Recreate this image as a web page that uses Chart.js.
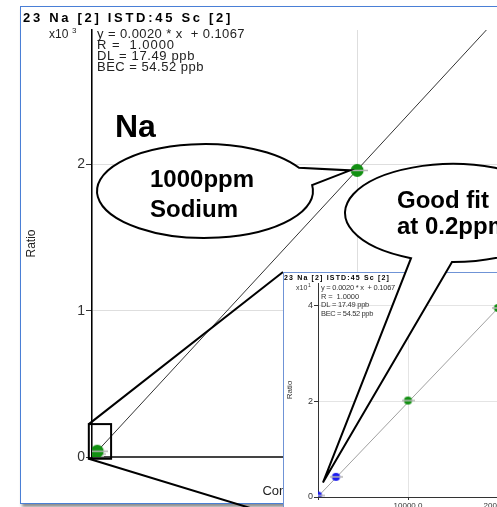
<!DOCTYPE html>
<html>
<head>
<meta charset="utf-8">
<title>23 Na calibration</title>
<script src="https://cdn.jsdelivr.net/npm/chart.js@4.4.1/dist/chart.umd.min.js"></script>
<style>
  html, body { margin: 0; padding: 0; background: #fff; }
  body { width: 497px; height: 507px; position: relative; overflow: hidden; }
  #mainFrame { position: absolute; left: 20px; top: 6px; width: 600px; height: 496px;
    border: 1px solid #4a7fd6; background: #fff; box-shadow: 2px 3px 3px rgba(0,0,0,0.45); }
  #mainChart { position: absolute; left: 0; top: 0; }
  #insetFrame { position: absolute; left: 283px; top: 272px; width: 300px; height: 244px;
    border: 1px solid #6f93d6; background: #fff; }
  #insetChart { position: absolute; left: 0; top: 0; }
  #overlay { position: absolute; left: 0; top: 0; pointer-events: none; }
</style>
</head>
<body>
<div id="mainFrame"></div>
<canvas id="mainChart" width="520" height="507"></canvas>
<div id="insetFrame"><canvas id="insetChart" width="260" height="244"></canvas></div>
<canvas id="overlay" width="497" height="507"></canvas>
<script>
// calibration standards: concentration (ppb) and measured ratio
const stdConc = [0, 2000, 10000, 20000, 1000000];
const stdRatio = [0.3, 4.2, 20.1, 39.4, 1960];
const stdColors = ['#1c1cf0', '#1c1cf0', '#119011', '#119011', '#119011'];

// end points of the fitted line
const fitConc = [0, 1500000];
const fitRatio = [0.1, 2945];

// tick positions (ratio shown x10^3 in the main plot, x10^1 in the inset)
const mainXTicks = [0, 1000000];
const mainYTicks = [0, 1000, 2000];
const insetXTicks = [0, 10000, 20000];
const insetYTicks = [0, 20, 40];

const titleText = '23 Na [2] ISTD:45 Sc [2]';
const fitLines = ['y = 0.0020 * x  + 0.1067', 'R =  1.0000', 'DL = 17.49 ppb', 'BEC = 54.52 ppb'];
const xTitle = 'Conc [ ppb ]';
const yTitle = 'Ratio';

// region of the main plot that the inset blows up
const zoomBoxConc = [-12000, 72000];
const zoomBoxRatio = [-12, 225];

const callout1Lines = ['1000ppm', 'Sodium'];
const callout2Lines = ['Good fit', 'at 0.2ppm'];

const SANS = "'Liberation Sans', Arial, sans-serif";

// text stretched to a given width with letter spacing
function spacedText(ctx, text, x, y, width) {
    ctx.letterSpacing = '0px';
    const w = ctx.measureText(text).width;
    ctx.letterSpacing = ((width - w) / text.length) + 'px';
    ctx.fillText(text, x, y);
    ctx.letterSpacing = '0px';
}

// filled circle with the grey bar through it
function makeMarker(color, r, barLen) {
    const c = document.createElement('canvas');
    const w = Math.max(barLen, 2 * r + 2), h = 2 * r + 2;
    c.width = w; c.height = h;
    const g = c.getContext('2d');
    g.fillStyle = color;
    g.beginPath(); g.arc(w / 2, h / 2, r, 0, 2 * Math.PI); g.fill();
    g.strokeStyle = '#b4b4b4'; g.lineWidth = 1.5;
    g.beginPath(); g.moveTo(0, h / 2); g.lineTo(w, h / 2); g.stroke();
    return c;
}

const setTicks = list => scale => { scale.ticks = list.map(v => ({value: v})); };

const stdPoints = stdConc.map((c, i) => ({x: c, y: stdRatio[i]}));
const fitPoints = fitConc.map((c, i) => ({x: c, y: fitRatio[i]}));

const insetBox = document.getElementById('insetFrame').getBoundingClientRect();

const mainDecor = {
    id: 'mainDecor',
    afterDraw(chart) {
        const ctx = chart.ctx;
        const {x, y} = chart.scales;
        ctx.save();
        ctx.textAlign = 'left';
        ctx.textBaseline = 'alphabetic';
        ctx.fillStyle = '#000';
        ctx.font = 'bold 13px ' + SANS;
        spacedText(ctx, titleText, 23, 22, 210);

        ctx.fillStyle = '#222';
        ctx.font = '12px ' + SANS;
        ctx.fillText('x10', 49, 38);
        ctx.font = '8px ' + SANS;
        ctx.fillText('3', 72, 33);

        ctx.font = '13px ' + SANS;
        const widths = [148, 78, 98, 107];
        const base = [38, 49, 60, 71];
        fitLines.forEach((t, i) => spacedText(ctx, t, 97, base[i], widths[i]));

        ctx.fillStyle = '#000';
        ctx.font = 'bold 32px ' + SANS;
        ctx.fillText('Na', 115, 137);

        // zoom box and the two lines out to the inset
        const l = x.getPixelForValue(zoomBoxConc[0]), r = x.getPixelForValue(zoomBoxConc[1]);
        const t = y.getPixelForValue(zoomBoxRatio[1]), b = y.getPixelForValue(zoomBoxRatio[0]);
        ctx.strokeStyle = '#000';
        ctx.lineWidth = 2;
        ctx.strokeRect(l, t, r - l, b - t);
        ctx.beginPath();
        ctx.moveTo(l, t); ctx.lineTo(insetBox.left, insetBox.top);
        ctx.moveTo(l, b); ctx.lineTo(insetBox.left, insetBox.bottom);
        ctx.stroke();
        ctx.restore();
    }
};

const insetDecor = {
    id: 'insetDecor',
    afterDraw(chart) {
        const ctx = chart.ctx;
        ctx.save();
        ctx.textAlign = 'left';
        ctx.textBaseline = 'alphabetic';
        ctx.fillStyle = '#000';
        ctx.font = 'bold 7px ' + SANS;
        spacedText(ctx, titleText, 0, 7, 106);

        ctx.fillStyle = '#333';
        ctx.font = '7px ' + SANS;
        ctx.fillText('x10', 12, 17);
        ctx.font = '5px ' + SANS;
        ctx.fillText('1', 24, 14);

        ctx.font = '7.5px ' + SANS;
        const widths = [74, 38, 48, 52];
        const base = [17, 25.5, 34, 42.5];
        fitLines.forEach((t, i) => spacedText(ctx, t, 37, base[i], widths[i]));
        ctx.restore();
    }
};

const mainChart = new Chart(document.getElementById('mainChart'), {
    type: 'scatter',
    data: {
        datasets: [
            {
                data: stdPoints,
                showLine: false,
                pointStyle: stdColors.map(c => makeMarker(c, 6.5, 22)),
                pointRadius: 7,
                clip: 0
            },
            {
                data: fitPoints,
                showLine: true,
                borderColor: '#333',
                borderWidth: 1,
                pointRadius: 0
            }
        ]
    },
    options: {
        responsive: false,
        animation: false,
        events: [],
        layout: { padding: { left: 20, top: 30, right: 17, bottom: 0 } },
        plugins: { legend: { display: false }, tooltip: { enabled: false } },
        scales: {
            x: {
                type: 'linear', min: 0, max: 1550000,
                afterFit: s => { s.height = 50; },
                afterBuildTicks: setTicks(mainXTicks),
                ticks: { display: false },
                grid: { color: '#dedede', drawTicks: false },
                border: { color: '#444', width: 2 },
                title: { display: true, text: xTitle, color: '#222',
                    font: { family: SANS, size: 13 }, padding: { top: 0, bottom: 8 } }
            },
            y: {
                min: 0, max: 2920,
                afterFit: s => { s.width = 72; },
                afterBuildTicks: setTicks(mainYTicks),
                ticks: { padding: 1, color: '#333',
                    font: { family: SANS, size: 14 }, callback: v => v / 1000 },
                grid: { color: '#dedede', tickColor: '#333', tickLength: 6 },
                border: { color: '#000', width: 1.5 },
                title: { display: true, text: yTitle, color: '#222',
                    font: { family: SANS, size: 12 }, padding: { top: 4, bottom: 0 } }
            }
        }
    },
    plugins: [mainDecor]
});

const insetChart = new Chart(document.getElementById('insetChart'), {
    type: 'scatter',
    data: {
        datasets: [
            {
                data: stdPoints,
                showLine: false,
                pointStyle: stdColors.map(c => makeMarker(c, 4, 13)),
                pointRadius: 4
            },
            {
                data: fitPoints,
                showLine: true,
                borderColor: '#a0a0a0',
                borderWidth: 1,
                pointRadius: 0
            }
        ]
    },
    options: {
        responsive: false,
        animation: false,
        events: [],
        layout: { padding: { left: 0, top: 10, right: 28, bottom: 0 } },
        plugins: { legend: { display: false }, tooltip: { enabled: false } },
        scales: {
            x: {
                type: 'linear', min: 0, max: 22000,
                afterFit: s => { s.height = 20; },
                afterBuildTicks: setTicks(insetXTicks),
                ticks: { padding: 1, color: '#333', maxRotation: 0, autoSkip: false,
                    font: { family: SANS, size: 8 },
                    callback: v => v === 0 ? '' : v.toFixed(1) },
                grid: { color: '#e4e4e4', tickColor: '#333', tickLength: 3 },
                border: { color: '#333', width: 1 },
                title: { display: true, text: xTitle, color: '#333',
                    font: { family: SANS, size: 8 }, padding: 0 }
            },
            y: {
                min: 0, max: 44.6,
                afterFit: s => { s.width = 34; },
                afterBuildTicks: setTicks(insetYTicks),
                ticks: { padding: 1, color: '#333',
                    font: { family: SANS, size: 9 }, callback: v => v / 10 },
                grid: { color: '#e4e4e4', tickColor: '#333', tickLength: 4 },
                border: { color: '#333', width: 1 },
                title: { display: true, text: yTitle, color: '#333',
                    font: { family: SANS, size: 8 }, padding: { top: 1, bottom: 0 } }
            }
        }
    },
    plugins: [insetDecor]
});

// speech bubbles on top of both plots
function toPage(chart, xv, yv) {
    const r = chart.canvas.getBoundingClientRect();
    return [r.left + chart.scales.x.getPixelForValue(xv), r.top + chart.scales.y.getPixelForValue(yv)];
}

function drawCallout(ctx, c) {
    ctx.beginPath();
    ctx.ellipse(c.cx, c.cy, c.rx, c.ry, 0, c.gap[1], c.gap[0] + 2 * Math.PI, false);
    ctx.lineTo(c.tip[0], c.tip[1]);
    ctx.closePath();
    ctx.fillStyle = '#fff';
    ctx.fill();
    ctx.strokeStyle = '#000';
    ctx.lineWidth = 2;
    ctx.stroke();
    ctx.fillStyle = '#000';
    ctx.font = 'bold 24px ' + SANS;
    ctx.textAlign = 'left';
    c.lines.forEach((t, i) => ctx.fillText(t, c.tx, c.ty[i]));
}

const octx = document.getElementById('overlay').getContext('2d');
const tip1 = toPage(mainChart, stdConc[4], stdRatio[4]);
drawCallout(octx, { cx: 205, cy: 191, rx: 108, ry: 47, gap: [-0.516, -0.128],
    tip: [tip1[0] - 7, tip1[1]], lines: callout1Lines, tx: 150, ty: [187, 217] });
const tip2 = toPage(insetChart, 550, 3);
drawCallout(octx, { cx: 453, cy: 213, rx: 108, ry: 49, gap: [1.58, 1.97],
    tip: tip2, lines: callout2Lines, tx: 397, ty: [208, 234] });
</script>
</body>
</html>
